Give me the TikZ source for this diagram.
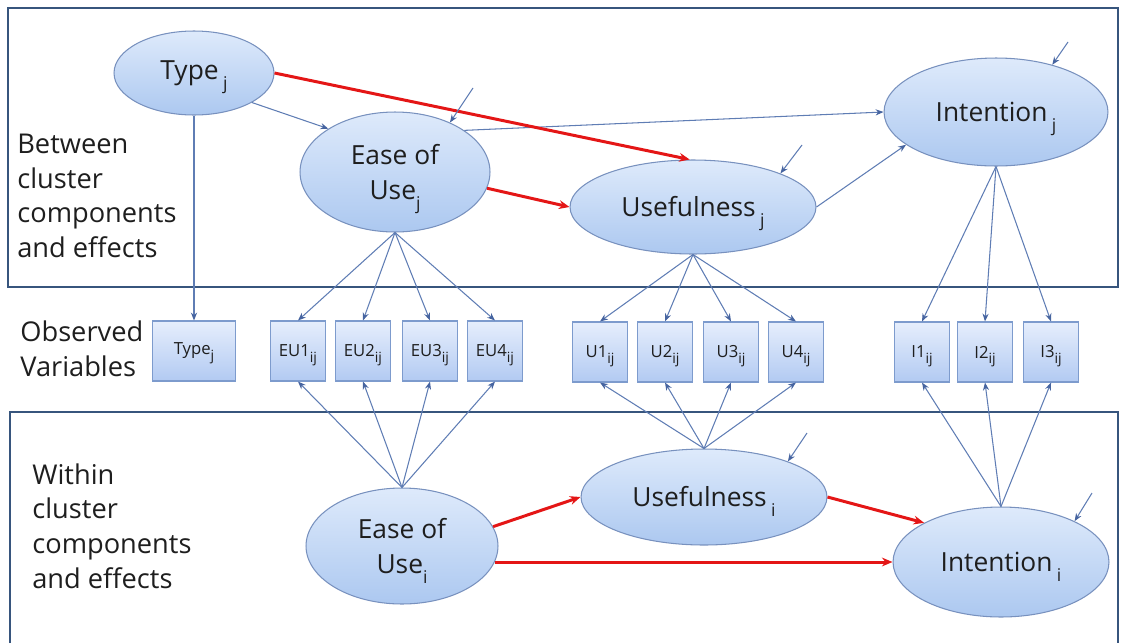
\documentclass[tikz,border=0pt]{standalone}
\usepackage{fontspec}
\setmainfont{Open Sans}
\usetikzlibrary{shapes.geometric,arrows.meta,calc}
\definecolor{framecol}{RGB}{55,85,125}
\definecolor{lineblue}{RGB}{95,125,180}
\definecolor{tipblue}{RGB}{70,100,160}
\definecolor{redarrow}{RGB}{228,22,22}
\definecolor{elltop}{RGB}{222,234,251}
\definecolor{ellbot}{RGB}{172,200,240}
\definecolor{ellborder}{RGB}{120,145,190}
\definecolor{boxtop}{RGB}{230,238,252}
\definecolor{boxbot}{RGB}{178,202,242}
\definecolor{boxborder}{RGB}{125,155,205}
\definecolor{txt}{RGB}{30,30,30}
\newcommand\lsub[1]{\raisebox{-0.7ex}[0pt][0pt]{\fontsize{10pt}{10pt}\selectfont #1}}
\newcommand\bsub[1]{\raisebox{-0.6ex}[0pt][0pt]{\fontsize{8pt}{8pt}\selectfont #1}}
\begin{document}
\begin{tikzpicture}[x=0.02cm,y=-0.02cm,
  latent/.style={ellipse,draw=ellborder,line width=0.6pt,top color=elltop,bottom color=ellbot,inner sep=0pt,font=\fontsize{15pt}{20pt}\selectfont,text=txt,align=center},
  obs/.style={rectangle,draw=boxborder,line width=0.6pt,top color=boxtop,bottom color=boxbot,inner sep=0pt,minimum width=1.1cm,minimum height=1.2cm,font=\fontsize{9.5pt}{11pt}\selectfont,text=txt},
  lnk/.style={draw=lineblue,line width=0.6pt,-{Stealth[length=4.5pt,width=3.5pt,color=tipblue]}},
  redlnk/.style={draw=redarrow,line width=1.7pt,-{Stealth[length=6pt,width=5pt]}},
  framebox/.style={draw=framecol,line width=1.3pt},
  lbl/.style={anchor=west,align=left,font=\fontsize{15.5pt}{19.8pt}\selectfont,text=txt,inner sep=0pt}
]
\useasboundingbox (0,0) rectangle (1125,643);

% frames
\draw[framebox] (8,8) rectangle (1118,287);
\draw[framebox] (10,643) -- (10,412) -- (1118,412) -- (1118,643);

% side labels
\node[lbl] (lb1) at (17,196) {Between\\cluster\\components\\and effects};
\node[lbl] (lb2) at (20,349) {Observed\\Variables};
\node[lbl] (lb3) at (32,526) {Within\\cluster\\components\\and effects};

% latent variables
\node[latent,minimum width=3.2cm,minimum height=1.68cm] (tj) at (194,73) {Type\,\lsub{j}};
\node[latent,minimum width=3.8cm,minimum height=2.4cm] (ej) at (395,172) {Ease of\\Use\lsub{j}};
\node[latent,minimum width=4.92cm,minimum height=1.88cm] (uj) at (693,207) {Usefulness\,\lsub{j}};
\node[latent,minimum width=4.48cm,minimum height=2.16cm] (ij) at (996,112) {Intention\,\lsub{j}};
\node[latent,minimum width=3.84cm,minimum height=2.32cm] (ei) at (402,546) {Ease of\\Use\lsub{i}};
\node[latent,minimum width=4.92cm,minimum height=1.92cm] (ui) at (704,497) {Usefulness\,\lsub{i}};
\node[latent,minimum width=4.32cm,minimum height=2.2cm] (ii) at (1001,562) {Intention\,\lsub{i}};

% observed variables
\node[obs,minimum width=1.66cm] (tb) at (194,351) {Type\bsub{j}};
\node[obs] (eu1) at (298,351) {EU1\bsub{ij}};
\node[obs] (eu2) at (363,351) {EU2\bsub{ij}};
\node[obs] (eu3) at (430,351) {EU3\bsub{ij}};
\node[obs] (eu4) at (495,351) {EU4\bsub{ij}};
\node[obs] (u1) at (600,352) {U1\bsub{ij}};
\node[obs] (u2) at (665,352) {U2\bsub{ij}};
\node[obs] (u3) at (731,352) {U3\bsub{ij}};
\node[obs] (u4) at (796,352) {U4\bsub{ij}};
\node[obs] (i1) at (922,352) {I1\bsub{ij}};
\node[obs] (i2) at (985,352) {I2\bsub{ij}};
\node[obs] (i3) at (1051,352) {I3\bsub{ij}};

% disturbance start points
\coordinate (dej) at (473,88);
\coordinate (duj) at (802,145);
\coordinate (dij) at (1068,42);
\coordinate (dui) at (807,433);
\coordinate (dii) at (1092,493);

% between-level paths
\draw[lnk] (tj.-27) -- (ej.147);
\draw[lnk] (tj.south) -- (tb.north);
\draw[lnk] (ej.31) -- (ij.west);
\draw[lnk] (uj.east) -- (ij.200);
\draw[redlnk] (tj.east) -- (uj.94);
\draw[redlnk] (ej.-10) -- (uj.west);
\draw[lnk] (dej) -- (ej.42);
\draw[lnk] (duj) -- (uj.21);
\draw[lnk] (dij) -- (ij.40);

% loadings between
\foreach \b in {eu1,eu2,eu3,eu4} \draw[lnk] (ej.south) -- (\b.north);
\foreach \b in {u1,u2,u3,u4} \draw[lnk] (uj.south) -- (\b.north);
\foreach \b in {i1,i2,i3} \draw[lnk] (ij.south) -- (\b.north);

% loadings within
\foreach \b in {eu1,eu2,eu3,eu4} \draw[lnk] (ei.north) -- (\b.south);
\foreach \b in {u1,u2,u3,u4} \draw[lnk] (ui.north) -- (\b.south);
\foreach \b in {i1,i2,i3} \draw[lnk] (ii.north) -- (\b.south);

% within-level paths
\draw[redlnk] (ei.12) -- (ui.west);
\draw[redlnk] (ei.-10 |- ii.west) -- (ii.west);
\draw[redlnk] (ui.east) -- (ii.153);
\draw[lnk] (dui) -- (ui.23);
\draw[lnk] (dii) -- (ii.29);
\end{tikzpicture}
\end{document}
